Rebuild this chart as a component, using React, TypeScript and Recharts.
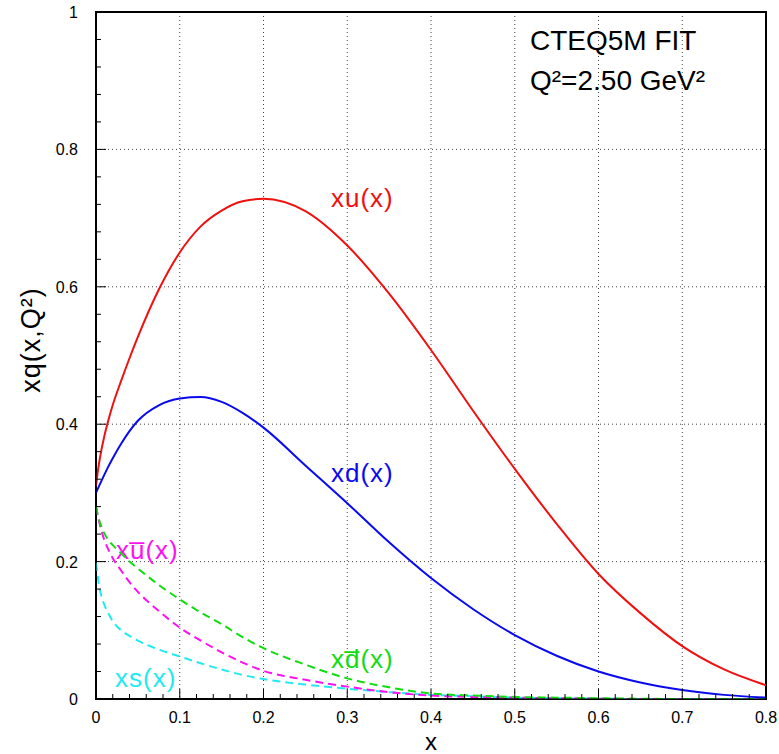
import { LineChart, Line, XAxis, YAxis, CartesianGrid, ReferenceArea } from 'recharts';

// momentum fraction x
const xValues = [0, 0.0025, 0.005, 0.01, 0.015, 0.02, 0.03, 0.04, 0.05, 0.075, 0.1, 0.125, 0.15, 0.175, 0.2, 0.25, 0.3, 0.35, 0.4, 0.45, 0.5, 0.55, 0.6, 0.65, 0.7, 0.75, 0.8];

// parton distributions
const xuValues = [0.31, 0.334, 0.353, 0.383, 0.407, 0.428, 0.463, 0.496, 0.527, 0.596, 0.65, 0.688, 0.711, 0.7245, 0.728, 0.71, 0.66, 0.59, 0.508, 0.42, 0.335, 0.255, 0.182, 0.125, 0.077, 0.043, 0.02];
const xdValues = [0.3, 0.307, 0.3135, 0.3265, 0.339, 0.3505, 0.3715, 0.39, 0.405, 0.4275, 0.4375, 0.4395, 0.4325, 0.4165, 0.395, 0.34, 0.285, 0.228, 0.176, 0.131, 0.093, 0.063, 0.04, 0.024, 0.013, 0.006, 0.002];
const xubarValues = [0.28, 0.265, 0.252, 0.231, 0.217, 0.205, 0.187, 0.17, 0.156, 0.128, 0.104, 0.085, 0.068, 0.053, 0.041, 0.028, 0.018, 0.01, 0.005, 0.003, 0.002, 0.001, 0.0005, 0, 0, 0, 0];
const xdbarValues = [0.28, 0.266, 0.256, 0.241, 0.231, 0.224, 0.212, 0.2, 0.19, 0.166, 0.145, 0.126, 0.109, 0.09, 0.074, 0.05, 0.03, 0.017, 0.008, 0.005, 0.003, 0.002, 0.001, 0.0005, 0, 0, 0];
const xsValues = [0.198, 0.175, 0.157, 0.137, 0.124, 0.113, 0.1, 0.092, 0.085, 0.072, 0.062, 0.052, 0.043, 0.035, 0.029, 0.021, 0.015, 0.01, 0.006, 0.004, 0.002, 0.001, 0.0005, 0, 0, 0, 0];

const xMajorTicks = [0, 0.1, 0.2, 0.3, 0.4, 0.5, 0.6, 0.7, 0.8];
const yMajorTicks = [0, 0.2, 0.4, 0.6, 0.8, 1];
const xMinorTicks = Array.from({ length: 41 }, (_, i) => Math.round(i * 2) / 100);
const yMinorTicks = Array.from({ length: 26 }, (_, i) => Math.round(i * 4) / 100);

const chartData = xValues.map((x, i) => ({
  x,
  xu: xuValues[i],
  xd: xdValues[i],
  xubar: xubarValues[i],
  xdbar: xdbarValues[i],
  xs: xsValues[i],
}));

const FONT = '"Liberation Sans", Arial, sans-serif';

const isMajor = (v: number, step: number) => Math.abs(v / step - Math.round(v / step)) < 1e-6;
const fmt = (v: number) => (v === 0 ? '0' : Number.isInteger(v) ? String(v) : v.toFixed(1));

const XTick = (props: any) => {
  const { x, y, payload } = props;
  const major = isMajor(payload.value, 0.1);
  return (
    <g>
      <line x1={x} x2={x} y1={y} y2={y - (major ? 10 : 5)} stroke="#000" strokeWidth={1} />
      {major && (
        <text x={x} y={y + 24} textAnchor="middle" fontFamily={FONT} fontSize={16} fill="#000">
          {fmt(payload.value)}
        </text>
      )}
    </g>
  );
};

const YTick = (props: any) => {
  const { x, y, payload } = props;
  const major = isMajor(payload.value, 0.2);
  return (
    <g>
      <line x1={x} x2={x + (major ? 10 : 5)} y1={y} y2={y} stroke="#000" strokeWidth={1} />
      {major && (
        <text x={x - 18} y={y + 6} textAnchor="end" fontFamily={FONT} fontSize={16} fill="#000">
          {fmt(payload.value)}
        </text>
      )}
    </g>
  );
};

const labelStyle = { fontFamily: FONT, fontSize: 26, letterSpacing: 1 };

export default function App() {
  return (
    <div style={{ position: 'absolute', left: 0, top: 0, background: '#fff' }}>
      <LineChart width={779} height={754} data={chartData} margin={{ top: 12, right: 13, bottom: 0, left: 0 }}>
        <CartesianGrid
          stroke="#444"
          strokeDasharray="1 3"
          verticalValues={xMajorTicks}
          horizontalValues={yMajorTicks}
        />
        <XAxis
          dataKey="x"
          type="number"
          domain={[0, 0.8]}
          ticks={xMinorTicks}
          interval={0}
          height={55}
          tickSize={0}
          tickMargin={0}
          tickLine={false}
          axisLine={{ stroke: '#000' }}
          tick={<XTick />}
          allowDataOverflow
          label={{
            content: () => (
              <text x={431} y={750} textAnchor="middle" fontFamily={FONT} fontSize={24} fill="#000">
                x
              </text>
            ),
          }}
        />
        <YAxis
          type="number"
          domain={[0, 1]}
          ticks={yMinorTicks}
          interval={0}
          width={96}
          tickSize={0}
          tickMargin={0}
          tickLine={false}
          axisLine={{ stroke: '#000' }}
          tick={<YTick />}
          allowDataOverflow
          label={{
            content: () => (
              <text
                x={40}
                y={340}
                transform="rotate(-90 40 340)"
                textAnchor="middle"
                fontFamily={FONT}
                fontSize={27}
                letterSpacing={1}
                fill="#000"
              >
                xq(x,Q²)
              </text>
            ),
          }}
        />
        <ReferenceArea x1={0} x2={0.8} y1={0} y2={1} fill="none" stroke="#000" strokeWidth={2} />

        <Line type="monotone" dataKey="xs" stroke="#22eaf0" strokeWidth={2} strokeDasharray="8 5" dot={false} isAnimationActive={false} />
        <Line type="monotone" dataKey="xubar" stroke="#ff10f0" strokeWidth={2} strokeDasharray="8 5" dot={false} isAnimationActive={false} />
        <Line type="monotone" dataKey="xdbar" stroke="#10dd10" strokeWidth={2} strokeDasharray="8 5" dot={false} isAnimationActive={false} />
        <Line type="monotone" dataKey="xd" stroke="#0a0af0" strokeWidth={2} dot={false} isAnimationActive={false} />
        <Line type="monotone" dataKey="xu" stroke="#f01010" strokeWidth={2} dot={false} isAnimationActive={false} />

        {/* annotations */}
        <text x={530} y={50} fontFamily={FONT} fontSize={28} fill="#000">CTEQ5M FIT</text>
        <text x={530} y={90} fontFamily={FONT} fontSize={28} fill="#000">Q²=2.50 GeV²</text>
        <text x={331} y={207} {...labelStyle} fill="#f01010">xu(x)</text>
        <text x={331} y={482} {...labelStyle} fill="#0a0af0">xd(x)</text>
        <text x={116} y={559} {...labelStyle} fill="#ff10f0">xu̅(x)</text>
        <text x={331} y={668} {...labelStyle} fill="#10dd10">xd̅(x)</text>
        <text x={115} y={687} {...labelStyle} fill="#22eaf0">xs(x)</text>
      </LineChart>
    </div>
  );
}
